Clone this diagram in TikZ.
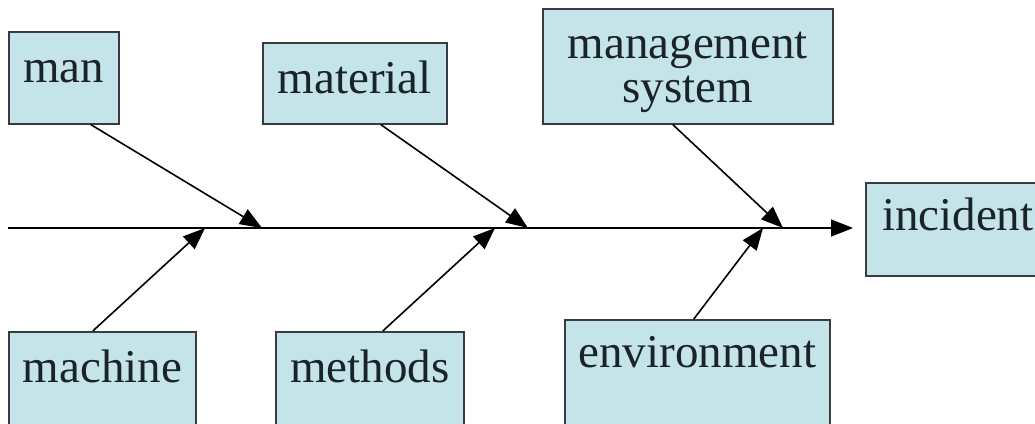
\documentclass[tikz,border=0pt]{standalone}
\usepackage{fontspec}
\setmainfont{Liberation Serif}
\usetikzlibrary{arrows.meta}
\definecolor{boxfill}{RGB}{197,228,234}
\definecolor{boxline}{RGB}{55,60,62}
\definecolor{txt}{RGB}{25,35,40}
\begin{document}
\begin{tikzpicture}[x=1pt,y=-1pt,
  box/.style={draw=boxline,fill=boxfill,line width=1.6pt,inner sep=0pt,anchor=north west,
    text=txt,font=\fontsize{47}{44}\selectfont,align=center},
  arr/.style={line width=1.6pt,-{Triangle[length=22pt,width=17pt]}}]
\useasboundingbox (0,0) rectangle (1035,423);
\node[box,minimum width=110,text height=51,text depth=41] (man) at (8,31) {man};
\node[box,minimum width=184,text height=51,text depth=30] (mat) at (262,42) {material};
\node[box,minimum width=290,text height=94,text depth=21] (mgmt) at (542,8) {management\\system};
\node[box,minimum width=184,text height=48,text depth=45] (inc) at (865,182) {incident};
\node[box,minimum width=187,text height=51,text depth=60] (mach) at (8,331) {machine};
\node[box,minimum width=188,text height=51,text depth=60] (meth) at (275,331) {methods};
\node[box,minimum width=265,text height=48,text depth=70] (env) at (564,319) {environment};
\coordinate (s0) at (8,228);
\coordinate (j1) at (262,228);
\coordinate (j2) at (205,228);
\coordinate (j3) at (528,228);
\coordinate (j4) at (495,228);
\coordinate (j5) at (783,228);
\coordinate (j6) at (763,228);
\draw[arr,shorten >=12pt] (s0) -- (s0 -| inc.west);
\draw[arr] ([xshift=27]man.south) -- (j1);
\draw[arr] ([xshift=-9.5]mach.north) -- (j2);
\draw[arr] ([xshift=26]mat.south) -- (j3);
\draw[arr] ([xshift=13]meth.north) -- (j4);
\draw[arr] ([xshift=-15]mgmt.south) -- (j5);
\draw[arr] ([xshift=-3.5]env.north) -- (j6);
\end{tikzpicture}
\end{document}
